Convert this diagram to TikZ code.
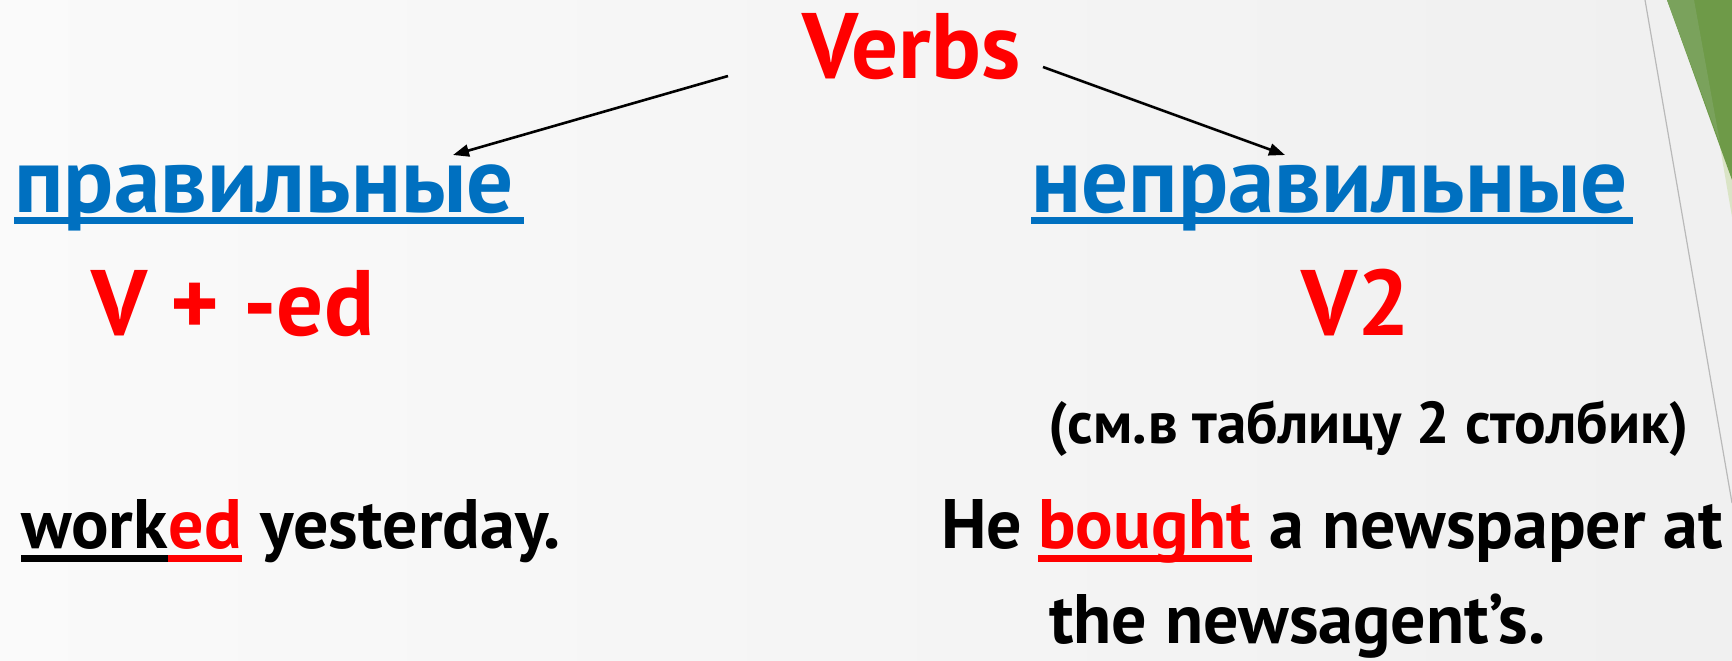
\documentclass[tikz,border=0pt]{standalone}
\usepackage{fontspec}
\setmainfont{PT Sans}
\usetikzlibrary{arrows.meta}
\definecolor{slideblue}{RGB}{0,112,192}
\definecolor{slidegreen}{RGB}{110,154,72}
\definecolor{bandgreen}{RGB}{122,162,92}
\definecolor{palegreen}{RGB}{218,228,198}
\tikzset{
  head/.style={font=\bfseries\fontsize{46.5}{52}\selectfont, inner sep=0pt, anchor=base west},
  note/.style={font=\bfseries\fontsize{29.5}{34}\selectfont, inner sep=0pt, anchor=base west},
  sent/.style={font=\bfseries\fontsize{35}{42}\selectfont, inner sep=0pt, anchor=base west},
  arr/.style={-{Triangle[length=8pt,width=6pt]}, line width=1.3pt},
  uline/.style={line width=3.5pt},
}
\begin{document}
\begin{tikzpicture}[x=0.5pt,y=-0.5pt]
  \useasboundingbox (0,0) rectangle (1732,660);
  % slide background
  \shade[left color=white!98!black, right color=white!94!black] (0,0) rectangle (1732,660);
  \fill[palegreen] (1695,0) -- (1732,0) -- (1732,217) -- cycle;
  \fill[slidegreen] (1667,0) -- (1732,0) -- (1732,180) -- cycle;
  \fill[bandgreen] (1667,0) -- (1694,0) -- (1720,143) -- cycle;
  \draw[gray!55, line width=0.6pt] (1645,0) -- (1732,503);

  \node[head, text=red] (verbs) at (802,78) {Verbs};
  \node[head, text=slideblue] (prav) at (14,212) {правильные};
  \node[head, text=slideblue] (neprav) at (1031,212) {неправильные};
  \node[head, text=red] (ved) at (91,335) {V + -ed};
  \node[head, text=red] (vtwo) at (1301,335) {V2};
  \node[note] (see) at (1048,443) {(см.в таблицу 2 столбик)};

  \node[sent] (work) at (21,548) {work};
  \node[sent, text=red] (ed) at (work.base east) {ed};
  \node[sent] (yest) at (ed.base east) {\ yesterday.};
  \node[sent] (he) at (941,548) {He};
  \node[sent, text=red] (bought) at (1038,548) {bought};
  \node[sent] (paper) at (bought.base east) {\ a newspaper at};
  \node[sent] (agent) at (1049,643) {the newsagent’s.};

  % underlines
  \draw[uline, slideblue] ([yshift=-4.25pt]prav.base west) -- ([yshift=-4.25pt,xshift=5pt]prav.base east);
  \draw[uline, slideblue] ([yshift=-4.25pt]neprav.base west) -- ([yshift=-4.25pt,xshift=2pt]neprav.base east);
  \draw[uline] ([yshift=-5.25pt]work.base west) -- ([yshift=-5.25pt]work.base east);
  \draw[uline, red] ([yshift=-5.25pt]ed.base west) -- ([yshift=-5.25pt]ed.base east);
  \draw[uline, red] ([yshift=-5.25pt]bought.base west) -- ([yshift=-5.25pt]bought.base east);

  % arrows
  \coordinate (lfrom) at (728,76);
  \coordinate (lto) at (453,155);
  \coordinate (rfrom) at (1043,67);
  \coordinate (rto) at (1285,155);
  \draw[arr] (lfrom) -- (lto);
  \draw[arr] (rfrom) -- (rto);
\end{tikzpicture}
\end{document}
